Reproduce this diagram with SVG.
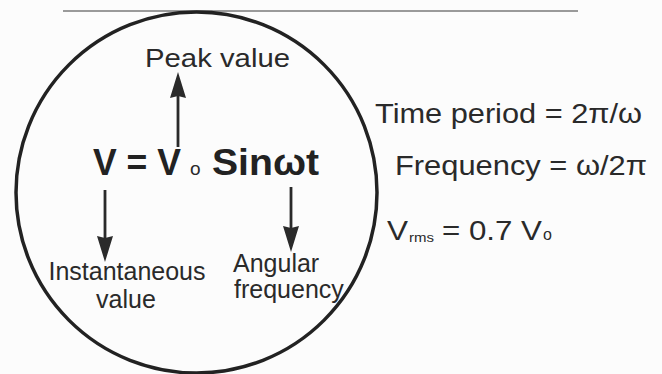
<svg xmlns="http://www.w3.org/2000/svg" width="662" height="374" viewBox="0 0 662 374">
<style>
.t{font-family:"Liberation Sans",Arial,sans-serif;fill:#2a2a2a}
.lbl{font-size:25px}
.eq{font-size:27px}
.main{font-size:37px;font-weight:bold;fill:#222}
.arr{stroke:#2a2a2a;stroke-width:2.8;fill:none}
</style>
<defs>
<marker id="ah" viewBox="0 0 26 16" refX="16" refY="8" markerWidth="26" markerHeight="16" markerUnits="userSpaceOnUse" orient="auto">
<path d="M0,0 L26,8 L0,16 L2,8 z" fill="#2a2a2a"/>
</marker>
</defs>
<rect width="662" height="374" fill="#fcfcfc"/>
<line x1="63" y1="11" x2="578" y2="11" stroke="#7a7a7a" stroke-width="1.6"/>
<g id="circle">
<circle cx="196.5" cy="192.5" r="180.5" fill="none" stroke="#222" stroke-width="3.5"/>
</g>
<g id="formula">
<text class="t main" x="93" y="175" textLength="88" lengthAdjust="spacingAndGlyphs">V = V</text>
<text class="t" x="190" y="175" font-size="19">o</text>
<text class="t main" x="212" y="175" textLength="107" lengthAdjust="spacingAndGlyphs">Sinωt</text>
</g>
<g id="peak">
<text class="t lbl" x="145" y="67" textLength="145" lengthAdjust="spacingAndGlyphs" font-size="26">Peak value</text>
</g>
<g id="instantaneous">
<text class="t lbl" x="127" y="280" text-anchor="middle">Instantaneous</text>
<text class="t lbl" x="126" y="308" text-anchor="middle">value</text>
</g>
<g id="angular">
<text class="t lbl" x="233" y="272">Angular</text>
<text class="t lbl" x="234" y="298">frequency</text>
</g>
<g id="time-period">
<text class="t eq" x="375" y="123" textLength="267" lengthAdjust="spacingAndGlyphs">Time period = 2π/ω</text>
</g>
<g id="frequency">
<text class="t eq" x="395" y="175" textLength="252" lengthAdjust="spacingAndGlyphs">Frequency = ω/2π</text>
</g>
<g id="vrms">
<text class="t eq" x="387" y="240" textLength="21" lengthAdjust="spacingAndGlyphs">V</text>
<text class="t" x="409" y="242" font-size="13" textLength="25" lengthAdjust="spacingAndGlyphs">rms</text>
<text class="t eq" x="442" y="240" textLength="100" lengthAdjust="spacingAndGlyphs">= 0.7 V</text>
<text class="t" x="543" y="240" font-size="16">o</text>
</g>
<g id="connectors">
<line class="arr" x1="178" y1="147" x2="178" y2="82" marker-end="url(#ah)"/>
<line class="arr" x1="105" y1="190" x2="105" y2="252" marker-end="url(#ah)"/>
<line class="arr" x1="291" y1="187" x2="291" y2="242" marker-end="url(#ah)"/>
</g>
</svg>
